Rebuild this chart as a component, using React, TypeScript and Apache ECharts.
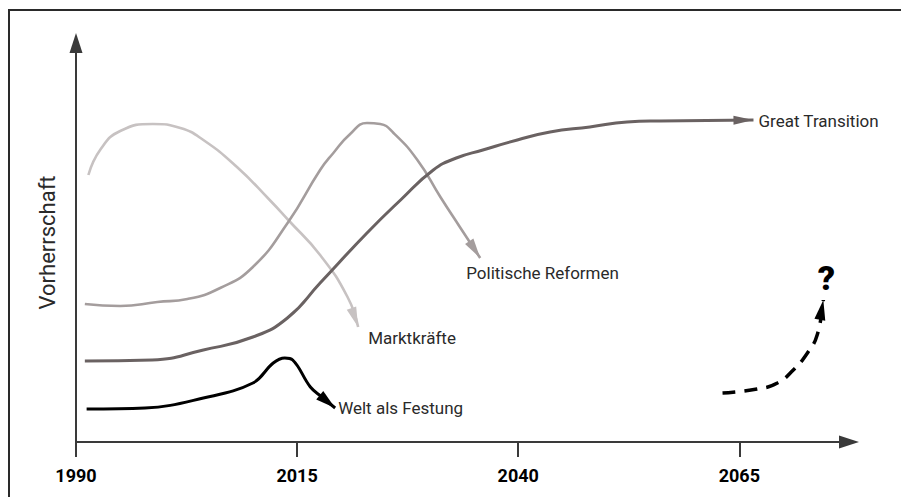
import React, { useEffect, useRef } from 'react';
import * as echarts from 'echarts';

const tickYears = [1990, 2015, 2040, 2065];
const yAxisName = 'Vorherrschaft';

const marktName = 'Marktkräfte';
const marktData: number[][] = [
  [1991.4, 267], [1992.8, 293], [1995.0, 311], [1998.7, 318], [2001.8, 314], [2004.4, 302],
  [2008.2, 275], [2011.9, 242], [2014.0, 222], [2017.6, 187], [2020.7, 145], [2021.9, 115],
];

const reformName = 'Politische Reformen';
const reformData: number[][] = [
  [1991.0, 138], [1995.0, 136], [1999.2, 140], [2002.6, 143], [2006.3, 154], [2010.0, 175],
  [2014.0, 220], [2017.6, 272], [2019.1, 289], [2021.0, 308], [2022.9, 319], [2024.4, 318],
  [2025.9, 309], [2028.6, 282], [2031.2, 245], [2033.4, 215], [2035.7, 184],
];

const transitionName = 'Great Transition';
const transitionData: number[][] = [
  [1991.0, 81], [1998.6, 82], [2004.4, 92], [2010.0, 105], [2013.9, 124], [2017.6, 159],
  [2022.9, 209], [2026.7, 242], [2030.4, 272], [2033.0, 284], [2036.0, 292], [2039.9, 302],
  [2043.6, 310], [2048.1, 315], [2052.3, 320], [2056.0, 321], [2066.6, 322],
];

const festungName = 'Welt als Festung';
const festungData: number[][] = [
  [1991.2, 33], [1997.8, 34], [2004.4, 44], [2010.0, 59], [2012.3, 79], [2013.6, 84],
  [2014.5, 82], [2016.5, 55], [2017.8, 45], [2019.3, 34],
];

const unknownName = '?';
const unknownData: number[][] = [
  [2063.1, 49], [2067.0, 53], [2069.3, 59], [2071.1, 72], [2072.7, 89], [2073.8, 107], [2074.5, 142],
];

const FONT = "Roboto, 'Liberation Sans', sans-serif";

type Spec = {
  name: string;
  data: number[][];
  color: string;
  width: number;
  dash?: number[];
  arrow: number[];
  label: any;
  smooth: number;
};

const specs: Spec[] = [
  { name: marktName, data: marktData, color: '#c7c2c2', width: 2.6, arrow: [10, 20], smooth: 0.5,
    label: { offset: [10, 11] } },
  { name: reformName, data: reformData, color: '#a49d9d', width: 2.6, arrow: [10, 20], smooth: 0.5,
    label: { offset: [-14, 15] } },
  { name: transitionName, data: transitionData, color: '#6a6262', width: 3, arrow: [9, 20], smooth: 0.5,
    label: { offset: [5, 1] } },
  { name: festungName, data: festungData, color: '#000000', width: 3, arrow: [11, 20], smooth: 0.4,
    label: { offset: [3, 0] } },
  { name: unknownName, data: unknownData, color: '#000000', width: 3.5, dash: [13, 9], arrow: [11, 20], smooth: 0.5,
    label: { offset: [3, -22], align: 'center', fontSize: 34, fontWeight: 900, color: '#000' } },
];

function buildSeries(chart: any | null) {
  return specs.map((s) => {
    let data: any[] = s.data;
    if (chart) {
      const n = s.data.length;
      const p1 = chart.convertToPixel({ gridIndex: 0 }, s.data[n - 2]);
      const p2 = chart.convertToPixel({ gridIndex: 0 }, s.data[n - 1]);
      const dx = p2[0] - p1[0];
      const dy = p2[1] - p1[1];
      const L = Math.hypot(dx, dy) || 1;
      const ux = dx / L;
      const uy = dy / L;
      const rot = (Math.atan2(-ux, -uy) * 180) / Math.PI;
      const h = s.arrow[1];
      data = s.data.map((v, i) =>
        i < n - 1
          ? v
          : {
              value: v,
              symbol: 'triangle',
              symbolSize: s.arrow,
              symbolRotate: rot,
              symbolOffset: [-ux * h / 2, -uy * h / 2],
              itemStyle: { color: s.color, opacity: 1 },
            }
      );
    }
    return {
      type: 'line',
      name: s.name,
      data,
      smooth: s.smooth,
      showSymbol: true,
      symbol: 'none',
      lineStyle: { color: s.color, width: s.width, type: s.dash ? s.dash : 'solid', cap: 'butt' },
      itemStyle: { color: s.color },
      emphasis: { disabled: true },
      endLabel: {
        show: true,
        formatter: s.name,
        distance: 0,
        align: 'left',
        verticalAlign: 'middle',
        fontFamily: FONT,
        fontSize: 17,
        color: '#2a2a2a',
        ...s.label,
      },
      z: 3,
    };
  });
}

function baseOption(): any {
  return {
    animation: false,
    backgroundColor: '#ffffff',
    grid: { left: 76, top: 43, right: 52, bottom: 55, containLabel: false },
    xAxis: {
      type: 'value',
      min: 1990,
      max: 2077.4,
      axisLine: {
        show: true,
        onZero: false,
        symbol: ['none', 'triangle'],
        symbolSize: [13, 20],
        lineStyle: { color: '#3a3a3a', width: 2 },
      },
      axisTick: {
        show: true,
        customValues: tickYears,
        length: 15,
        inside: false,
        lineStyle: { color: '#3a3a3a', width: 2 },
      },
      axisLabel: {
        show: true,
        customValues: tickYears,
        formatter: (v: number) => String(Math.round(v)),
        margin: 24,
        fontFamily: FONT,
        fontWeight: 'bold',
        fontSize: 18,
        color: '#000',
      },
      splitLine: { show: false },
    },
    yAxis: {
      type: 'value',
      min: 0,
      max: 399,
      name: yAxisName,
      nameLocation: 'middle',
      nameGap: 18,
      nameTextStyle: { fontFamily: FONT, fontSize: 22, color: '#2a2a2a' },
      axisLine: {
        show: true,
        symbol: ['none', 'triangle'],
        symbolSize: [13, 20],
        lineStyle: { color: '#3a3a3a', width: 2 },
      },
      axisTick: { show: false },
      axisLabel: { show: false },
      splitLine: { show: false },
    },
    graphic: [
      {
        type: 'rect',
        shape: { x: 9, y: 10, width: 1400, height: 1400 },
        style: { fill: 'none', stroke: '#2a2a2a', lineWidth: 2 },
        silent: true,
        z: 0,
      },
    ],
    series: buildSeries(null),
  };
}

export default function App() {
  const ref = useRef<HTMLDivElement>(null);
  useEffect(() => {
    if (!ref.current) return;
    const chart = echarts.init(ref.current, null, { renderer: 'svg' });
    chart.setOption(baseOption());
    chart.setOption({ series: buildSeries(chart) });
    return () => {
      chart.dispose();
    };
  }, []);
  return (
    <div
      ref={ref}
      style={{ position: 'fixed', left: 0, top: 0, width: 901, height: 497, background: '#fff' }}
    />
  );
}
